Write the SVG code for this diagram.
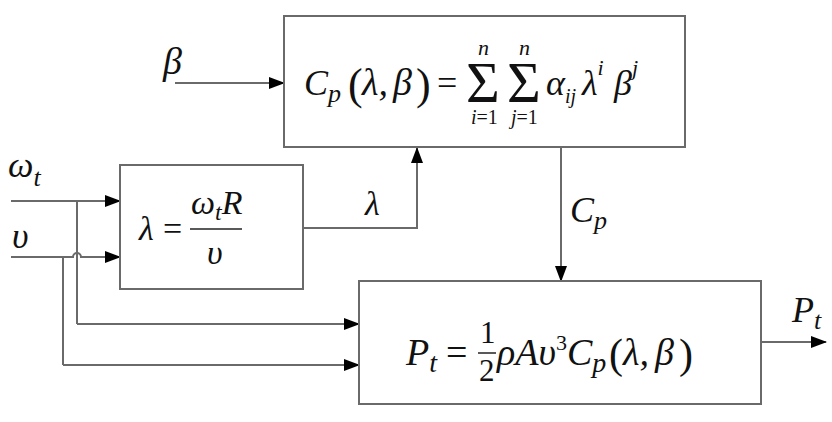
<svg xmlns="http://www.w3.org/2000/svg" width="832" height="422" viewBox="0 0 832 422">
<defs>
<marker id="ah" markerWidth="16" markerHeight="12" refX="15" refY="6" orient="auto" markerUnits="userSpaceOnUse">
<path d="M0,0 L16,6 L0,12 z" fill="#000"/>
</marker>
<style>
.box{fill:#fff;stroke:#6a6a6a;stroke-width:2}
.ln{fill:none;stroke:#6a6a6a;stroke-width:2}
.ar{marker-end:url(#ah)}
.it{font-style:italic}
</style>
</defs>
<rect width="832" height="422" fill="#fff"/>
<g font-family="Liberation Serif" fill="#111">
<g id="connectors">
<path class="ln ar" d="M175,83 H284"/>
<path class="ln ar" d="M11,201 H120"/>
<path class="ln ar" d="M11,257 H73 A4,4 0 0 1 81,257 H120"/>
<path class="ln" d="M77,201 V324"/>
<path class="ln ar" d="M77,324 H359"/>
<path class="ln" d="M63,257 V365"/>
<path class="ln ar" d="M63,365 H359"/>
<path class="ln ar" d="M303,228 H417 V148"/>
<path class="ln ar" d="M561,148 V281"/>
<path class="ln ar" d="M761,342 H826"/>
<text class="it" x="163" y="74" font-size="38">β</text>
<text class="it" x="8" y="177" font-size="36">ω<tspan font-size="26" dy="9">t</tspan></text>
<text class="it" x="12" y="248" font-size="36">υ</text>
<text class="it" x="365" y="215" font-size="34">λ</text>
<text class="it" x="570" y="222" font-size="36">C<tspan font-size="26" dy="7">p</tspan></text>
<text class="it" x="792" y="322" font-size="36">P<tspan font-size="26" dy="7">t</tspan></text>
</g>
<g id="cp-box">
<rect class="box" x="284" y="16" width="401" height="131"/>
<text class="it" x="304" y="95" font-size="36">C<tspan font-size="26" dy="7">p</tspan></text>
<text x="348" y="99" font-size="44">(</text>
<text class="it" x="362" y="95" font-size="38">λ,</text>
<text class="it" x="393" y="95" font-size="38">β</text>
<text x="416" y="99" font-size="44">)</text>
<text x="437" y="95" font-size="36">=</text>
<text x="466" y="102" font-size="58">Σ</text>
<text x="507" y="102" font-size="58">Σ</text>
<text class="it" x="478" y="55" font-size="22">n</text>
<text class="it" x="519" y="55" font-size="22">n</text>
<text x="471" y="124" font-size="20"><tspan font-style="italic">i</tspan>=1</text>
<text x="511" y="124" font-size="20"><tspan font-style="italic">j</tspan>=1</text>
<text class="it" x="546" y="95" font-size="36">α<tspan font-size="20" dy="8">ij</tspan></text>
<text class="it" x="582" y="95" font-size="36">λ<tspan font-size="22" dy="-20">i</tspan></text>
<text class="it" x="614" y="95" font-size="36">β<tspan font-size="22" dy="-20">j</tspan></text>
</g>
<g id="lambda-box">
<rect class="box" x="120" y="165" width="183" height="124"/>
<text class="it" x="139" y="240" font-size="34">λ</text>
<text x="163" y="240" font-size="34">=</text>
<line x1="190" y1="229" x2="242" y2="229" stroke="#222" stroke-width="1.5"/>
<text class="it" x="191" y="214" font-size="34">ω<tspan font-size="24" dy="6">t</tspan><tspan dy="-6">R</tspan></text>
<text class="it" x="207" y="264" font-size="34">υ</text>
</g>
<g id="pt-box">
<rect class="box" x="359" y="281" width="402" height="123"/>
<text class="it" x="406" y="365" font-size="38">P<tspan font-size="28" dy="7">t</tspan></text>
<text x="446" y="365" font-size="38">=</text>
<text x="480" y="343" font-size="31">1</text>
<line x1="478" y1="353" x2="496" y2="353" stroke="#222" stroke-width="1.5"/>
<text x="479" y="381" font-size="31">2</text>
<text class="it" x="497" y="365" font-size="38">ρAυ<tspan font-style="normal" font-size="22" dy="-15">3</tspan><tspan dy="15">C</tspan><tspan font-size="28" dy="7">p</tspan></text>
<text x="609" y="368" font-size="42">(</text>
<text class="it" x="623" y="365" font-size="38">λ,</text>
<text class="it" x="655" y="365" font-size="38">β</text>
<text x="679" y="368" font-size="42">)</text>
</g>
</g>
</svg>
